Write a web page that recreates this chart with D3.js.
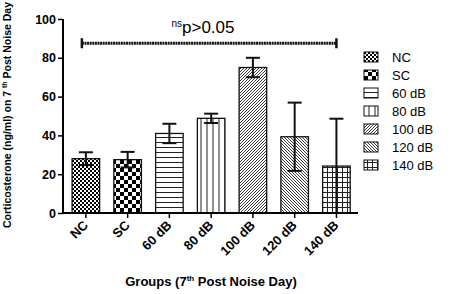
<!DOCTYPE html>
<html><head><meta charset="utf-8">
<script src="https://cdn.jsdelivr.net/npm/d3@7"></script>
<style>body{margin:0;background:#fff}svg{display:block;font-family:"Liberation Sans",Arial,sans-serif}</style>
</head><body>
<svg id="c" width="464" height="294"></svg>
<script>
const categories = ["NC","SC","60 dB","80 dB","100 dB","120 dB","140 dB"];
const means = [28, 27.5, 41, 48.8, 75, 39.3, 24.2];
const errors = [3.3, 4, 5, 2.4, 5, 17.6, 24.4];
const patterns = ["fineCheck","check","hlines","vlines","diagR","diagL","grid"];
const yTicks = [0,20,40,60,80,100];
const sigLevel = 87.5;
const sigLabel = "p>0.05";
const sigSup = "ns";

const svg = d3.select("#c");
const defs = svg.append("defs");
function pat(id, w, h, draw){
  const p = defs.append("pattern").attr("id",id).attr("patternUnits","userSpaceOnUse").attr("width",w).attr("height",h);
  p.append("rect").attr("width",w).attr("height",h).attr("fill","#fff");
  draw(p);
}
pat("fineCheck",4,4,p=>{p.append("rect").attr("width",2).attr("height",2);p.append("rect").attr("x",2).attr("y",2).attr("width",2).attr("height",2);});
pat("check",8,8,p=>{p.append("rect").attr("width",4).attr("height",4);p.append("rect").attr("x",4).attr("y",4).attr("width",4).attr("height",4);});
pat("hlines",5,5,p=>{p.append("line").attr("x1",0).attr("x2",5).attr("y1",2.5).attr("y2",2.5).attr("stroke","#222").attr("stroke-width",1);});
pat("vlines",6,6,p=>{p.append("line").attr("y1",0).attr("y2",6).attr("x1",3).attr("x2",3).attr("stroke","#222").attr("stroke-width",1);});
pat("diagR",3,3,p=>{p.append("path").attr("d","M0,3L3,0M-1,1L1,-1M2,4L4,2").attr("stroke","#222").attr("stroke-width",0.9);});
pat("diagL",3,3,p=>{p.append("path").attr("d","M0,0L3,3M-1,2L1,4M2,-1L4,1").attr("stroke","#222").attr("stroke-width",0.9);});
pat("grid",5,5,p=>{p.append("path").attr("d","M0,2.5H5M2.5,0V5").attr("stroke","#222").attr("stroke-width",1);});

const x = d3.scaleBand().domain(categories).range([65,357.3]).paddingInner(0.34).paddingOuter(0.17);
const y = d3.scaleLinear().domain([0,100]).range([213,19]);

// bars
svg.append("g").selectAll("rect").data(categories).join("rect")
  .attr("x",d=>x(d)).attr("width",x.bandwidth())
  .attr("y",(d,i)=>y(means[i])).attr("height",(d,i)=>y(0)-y(means[i]))
  .attr("fill",(d,i)=>`url(#${patterns[i]})`).attr("stroke","#111").attr("stroke-width",1.3);

// error bars
const eb = svg.append("g").attr("stroke","#111").attr("stroke-width",2);
categories.forEach((c,i)=>{
  const cx = x(c)+x.bandwidth()/2;
  const hi = y(means[i]+errors[i]), lo = y(Math.max(0,means[i]-errors[i]));
  eb.append("line").attr("x1",cx).attr("x2",cx).attr("y1",hi).attr("y2",lo);
  eb.append("line").attr("x1",cx-7).attr("x2",cx+7).attr("y1",hi).attr("y2",hi);
  eb.append("line").attr("x1",cx-7).attr("x2",cx+7).attr("y1",lo).attr("y2",lo);
});

// y axis
const ya = svg.append("g").attr("transform","translate(63,0)")
  .call(d3.axisLeft(y).tickValues(yTicks).tickSize(5).tickPadding(2));
ya.select(".domain").attr("stroke-width",2).attr("d",`M0,${y(100)}V${y(0)+1}`);
ya.selectAll(".tick line").attr("stroke-width",1.5);
ya.selectAll("text").attr("font-size",12.5).attr("font-weight","bold").attr("fill","#000").attr("font-family","Liberation Sans, Arial, sans-serif");

// x axis
const xa = svg.append("g").attr("transform","translate(0,213)")
  .call(d3.axisBottom(x).tickSize(5).tickSizeOuter(0));
xa.select(".domain").attr("stroke-width",2).attr("d","M62,0H358");
xa.selectAll(".tick line").attr("stroke-width",1.5);
xa.selectAll("text").attr("font-size",13).attr("font-weight","bold").attr("fill","#000")
  .attr("font-family","Liberation Sans, Arial, sans-serif")
  .attr("text-anchor","end").attr("dy",0).attr("y",0)
  .attr("transform","translate(3,13) rotate(-45)");

// significance line
const x0 = x(categories[0])+x.bandwidth()/2 - 4, x1 = x(categories[categories.length-1])+x.bandwidth()/2;
const sg = svg.append("g").attr("stroke","#111");
sg.append("line").attr("x1",x0).attr("x2",x1).attr("y1",y(sigLevel)).attr("y2",y(sigLevel)).attr("stroke-width",3).attr("stroke-dasharray","2,0.6");
sg.append("line").attr("x1",x0).attr("x2",x0).attr("y1",y(sigLevel)-5).attr("y2",y(sigLevel)+5).attr("stroke-width",2.5);
sg.append("line").attr("x1",x1).attr("x2",x1).attr("y1",y(sigLevel)-5).attr("y2",y(sigLevel)+5).attr("stroke-width",2.5);
const st = svg.append("text").attr("x",203).attr("y",33).attr("text-anchor","middle").attr("font-size",17);
st.append("tspan").text(sigSup).attr("font-size",10).attr("dy",-6);
st.append("tspan").text(sigLabel).attr("dy",6);

// axis titles
const yt = svg.append("text").attr("transform","translate(11,115) rotate(-90)").attr("text-anchor","middle")
  .attr("font-size",10.5).attr("font-weight","bold");
yt.append("tspan").text("Corticosterone (ng/ml) on 7 ");
yt.append("tspan").text("th").attr("font-size",7).attr("dy",-4);
yt.append("tspan").text(" Post Noise Day").attr("dy",4);

const xt = svg.append("text").attr("x",211).attr("y",286).attr("text-anchor","middle").attr("font-size",13).attr("font-weight","bold");
xt.append("tspan").text("Groups (7");
xt.append("tspan").text("th").attr("font-size",8).attr("dy",-5);
xt.append("tspan").text(" Post Noise Day)").attr("dy",5);

// legend
const lg = svg.append("g");
categories.forEach((c,i)=>{
  const ly = 57 + i*18;
  lg.append("rect").attr("x",364).attr("y",ly-5).attr("width",14).attr("height",10)
    .attr("fill",`url(#${patterns[i]})`).attr("stroke","#111").attr("stroke-width",1);
  lg.append("text").attr("x",392).attr("y",ly+4.5).attr("font-size",13).text(c);
});
</script>
</body></html>
